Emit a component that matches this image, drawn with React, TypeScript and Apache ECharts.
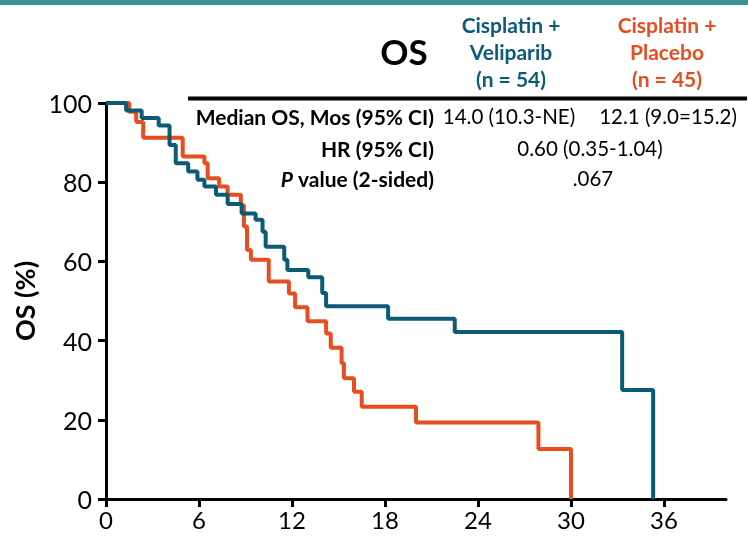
import React, { useEffect, useRef } from "react";
import * as echarts from "echarts";

// Kaplan-Meier OS curves (months, % surviving)
const timeVeliparib = [0, 1.3, 2.3, 3.4, 4.1, 4.5, 5.3, 5.9, 6.35, 7.1, 7.85, 8.75, 9.65, 10.1, 10.3, 11.5, 11.7, 13.05, 13.95, 14.2, 18.2, 22.5, 33.3, 35.3];
const survVeliparib = [100, 98.1, 96.2, 94.3, 89.4, 84.8, 82.7, 80.6, 78.9, 76.8, 74.5, 72.1, 70.5, 67.5, 63.7, 60.4, 57.8, 56.0, 52.0, 48.7, 45.5, 42.2, 27.5, 0];

const timePlacebo = [0, 1.5, 1.95, 2.4, 4.95, 6.35, 6.56, 7.3, 7.85, 8.7, 8.9, 9.1, 9.35, 10.5, 11.8, 12.2, 13.0, 14.2, 14.5, 15.2, 15.35, 16.0, 16.5, 20.0, 27.9, 30.0];
const survPlacebo = [100, 97.8, 95.2, 91.2, 86.5, 84.8, 81.0, 78.9, 76.8, 74.2, 68.8, 62.9, 60.4, 54.9, 51.9, 48.4, 44.9, 41.8, 38.2, 34.3, 30.5, 27.1, 23.3, 19.3, 12.6, 0];

const xTicks = [0, 6, 12, 18, 24, 30, 36];
const yTicks = [0, 20, 40, 60, 80, 100];

const armNames = ["Cisplatin + Veliparib", "Cisplatin + Placebo"];
const armHeaderVeliparib = ["Cisplatin +", "Veliparib", "(n = 54)"];
const armHeaderPlacebo = ["Cisplatin +", "Placebo", "(n = 45)"];
const rowLabels = ["Median OS, Mos (95% CI)", "HR (95% CI)", "{i|P} value (2-sided)"];
const medianValues = ["14.0 (10.3-NE)", "12.1 (9.0=15.2)"];
const hrValue = "0.60 (0.35-1.04)";
const pValue = ".067";

const TEAL = "#0c5b76";
const ORANGE = "#e64d1f";
const FONT = "Lato, 'Open Sans', sans-serif";

export default function App() {
  const ref = useRef<HTMLDivElement>(null);
  useEffect(() => {
    if (!ref.current) return;
    const chart = echarts.init(ref.current, undefined, { renderer: "svg" });
    const toPairs = (t: number[], s: number[]) => t.map((v, i) => [v, s[i]]);
    const headerText = (lines: string[], cx: number, color: string) =>
      lines.map((txt, i) => ({
        type: "text",
        x: cx,
        y: 24 + i * 27,
        style: {
          text: txt,
          fill: color,
          font: `bold 21px ${FONT}`,
          align: "center",
          verticalAlign: "middle",
        },
      }));
    const rowYs = [116, 148, 178];
    const valueText = (txt: string, cx: number, cy: number) => ({
      type: "text",
      x: cx,
      y: cy,
      style: { text: txt, fill: "#000", font: `20.5px ${FONT}`, align: "center", verticalAlign: "middle" },
    });
    chart.setOption({
      animation: false,
      textStyle: { fontFamily: FONT },
      grid: { left: 106, right: 22, top: 103, bottom: 41 },
      xAxis: {
        type: "value",
        min: 0,
        max: 40,
        interval: 6,
        splitLine: { show: false },
        axisLine: { lineStyle: { color: "#000", width: 3 } },
        axisTick: { show: true, length: 8, lineStyle: { color: "#000", width: 3 }, customValues: xTicks },
        axisLabel: { color: "#000", fontSize: 24, margin: 8, fontFamily: FONT, customValues: xTicks },
      },
      yAxis: {
        type: "value",
        min: 0,
        max: 100,
        interval: 20,
        name: "OS (%)",
        nameLocation: "middle",
        nameGap: 62,
        nameTextStyle: { color: "#000", fontSize: 27, fontWeight: "bold", fontFamily: FONT },
        splitLine: { show: false },
        axisLine: { show: true, lineStyle: { color: "#000", width: 3 } },
        axisTick: { show: true, length: 8, lineStyle: { color: "#000", width: 3 }, customValues: yTicks },
        axisLabel: { color: "#000", fontSize: 25, margin: 14, fontFamily: FONT, customValues: yTicks },
      },
      series: [
        {
          name: armNames[1],
          type: "line",
          step: "end",
          showSymbol: false,
          data: toPairs(timePlacebo, survPlacebo),
          lineStyle: { color: ORANGE, width: 4 },
          itemStyle: { color: ORANGE },
        },
        {
          name: armNames[0],
          type: "line",
          step: "end",
          showSymbol: false,
          data: toPairs(timeVeliparib, survVeliparib),
          lineStyle: { color: TEAL, width: 4 },
          itemStyle: { color: TEAL },
        },
      ],
      graphic: [
        { type: "rect", shape: { x: 0, y: 0, width: 748, height: 5 }, style: { fill: "#3a9196" } },
        {
          type: "text",
          x: 404,
          y: 51,
          style: { text: "OS", fill: "#000", font: `bold 35px ${FONT}`, align: "center", verticalAlign: "middle" },
        },
        ...headerText(armHeaderVeliparib, 511, TEAL),
        ...headerText(armHeaderPlacebo, 667, ORANGE),
        { type: "line", shape: { x1: 188, y1: 98.5, x2: 747, y2: 98.5 }, style: { stroke: "#000", lineWidth: 4 } },
        ...rowLabels.map((txt, i) => ({
          type: "text",
          x: 434,
          y: rowYs[i],
          style: {
            text: txt,
            fill: "#000",
            font: `bold 21px ${FONT}`,
            align: "right",
            verticalAlign: "middle",
            rich: { i: { fontStyle: "italic", fontWeight: "bold", fontSize: 21, fontFamily: FONT, fill: "#000" } },
          },
        })),
        valueText(medianValues[0], 509, rowYs[0]),
        valueText(medianValues[1], 668, rowYs[0]),
        valueText(hrValue, 590, rowYs[1]),
        valueText(pValue, 593, rowYs[2]),
      ],
    });
    return () => chart.dispose();
  }, []);
  return <div ref={ref} style={{ position: "fixed", left: 0, top: 0, width: 748, height: 540 }} />;
}
